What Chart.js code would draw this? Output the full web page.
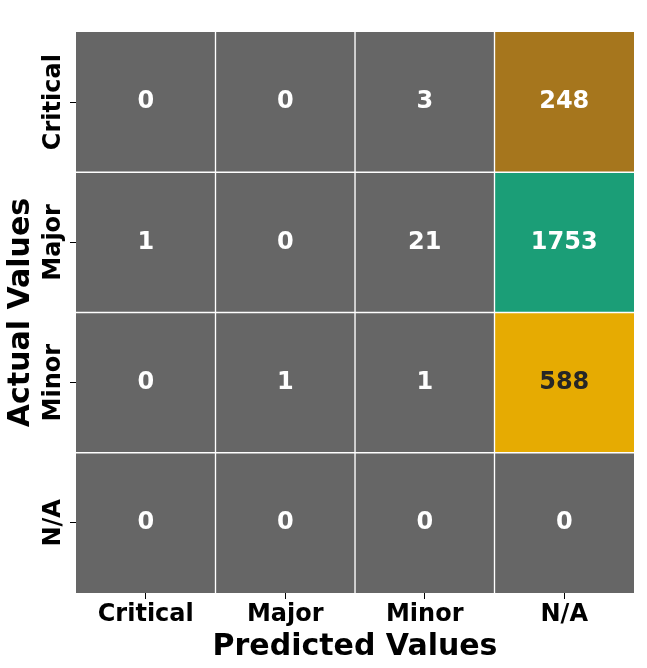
<!DOCTYPE html>
<html lang="en">
<head>
    <meta charset="UTF-8">
    <title>Confusion Matrix</title>
    <script src="https://cdn.jsdelivr.net/npm/chart.js"></script>
    <style>
        html, body { margin: 0; padding: 0; background: #fff; }
        #wrap { width: 647px; height: 668px; }
    </style>
</head>
<body>
    <div id="wrap"><canvas id="chartCM"></canvas></div>

    <script>
        // rows = actual, columns = predicted
        const rowLabels = ['Critical', 'Major', 'Minor', 'N/A'];
        const colLabels = ['Critical', 'Major', 'Minor', 'N/A'];
        const counts = [
            [0, 0, 3, 248],
            [1, 0, 21, 1753],
            [0, 1, 1, 588],
            [0, 0, 0, 0]
        ];

        // cell colours (same layout as counts)
        const gray = '#666666';
        const cellColors = [
            [gray, gray, gray, '#A6761D'],
            [gray, gray, gray, '#1B9E77'],
            [gray, gray, gray, '#E6AB02'],
            [gray, gray, gray, gray]
        ];
        const textColors = [
            ['#fff', '#fff', '#fff', '#fff'],
            ['#fff', '#fff', '#fff', '#fff'],
            ['#fff', '#fff', '#fff', '#262626'],
            ['#fff', '#fff', '#fff', '#fff']
        ];

        const font = 'DejaVu Sans';
        const n = rowLabels.length;

        // one floating bar per cell: column j spans [j, j+1]
        const datasets = colLabels.map((c, j) => ({
            label: c,
            data: rowLabels.map(() => [j, j + 1]),
            backgroundColor: rowLabels.map((r, i) => cellColors[i][j]),
            borderColor: '#ffffff',
            borderSkipped: false,
            borderWidth: ctx => ({
                top: ctx.dataIndex > 0 ? 1 : 0,
                bottom: ctx.dataIndex < n - 1 ? 1 : 0,
                left: ctx.datasetIndex > 0 ? 1 : 0,
                right: ctx.datasetIndex < n - 1 ? 1 : 0
            }),
            barPercentage: 1,
            categoryPercentage: 1
        }));

        // counts in the cells + vertical row labels centred on their ticks
        const cellText = {
            id: 'cellText',
            afterDatasetsDraw(chart) {
                const ctx = chart.ctx;
                ctx.save();
                ctx.font = 'bold 24px "' + font + '"';
                ctx.textAlign = 'center';
                ctx.textBaseline = 'middle';
                chart.data.datasets.forEach((ds, j) => {
                    chart.getDatasetMeta(j).data.forEach((bar, i) => {
                        const p = bar.getProps(['x', 'y', 'base'], true);
                        ctx.fillStyle = textColors[i][j];
                        ctx.fillText(String(counts[i][j]), (p.x + p.base) / 2, p.y);
                    });
                });
                ctx.restore();
            },
            afterDraw(chart) {
                const ctx = chart.ctx;
                const ys = chart.scales.y;
                ctx.save();
                ctx.font = 'bold 24px "' + font + '"';
                ctx.fillStyle = '#000';
                ctx.textAlign = 'center';
                ctx.textBaseline = 'middle';
                rowLabels.forEach((r, i) => {
                    ctx.save();
                    ctx.translate(54, ys.getPixelForValue(i));
                    ctx.rotate(-Math.PI / 2);
                    ctx.fillText(r, 0, 0);
                    ctx.restore();
                });
                ctx.restore();
            }
        };

        new Chart(document.getElementById('chartCM'), {
            type: 'bar',
            data: { labels: rowLabels, datasets: datasets },
            plugins: [cellText],
            options: {
                indexAxis: 'y',
                responsive: true,
                maintainAspectRatio: false,
                animation: false,
                layout: { padding: { top: 32, right: 13, left: 0, bottom: 0 } },
                plugins: { legend: { display: false }, tooltip: { enabled: false } },
                scales: {
                    y: {
                        stacked: true,
                        grid: { offset: false, drawOnChartArea: false, drawTicks: true, tickLength: 6, color: '#000', lineWidth: 1 },
                        border: { display: false },
                        ticks: { display: false },
                        title: {
                            display: true, text: 'Actual Values', color: '#000', padding: { top: 3 },
                            font: { family: font, size: 30, weight: 'bold' }
                        },
                        afterFit: s => { s.width = 76; }
                    },
                    x: {
                        min: 0, max: n,
                        afterBuildTicks: s => { s.ticks = colLabels.map((c, j) => ({ value: j + 0.5 })); },
                        grid: { drawOnChartArea: false, drawTicks: true, tickLength: 6, color: '#000', lineWidth: 1 },
                        border: { display: false },
                        ticks: {
                            padding: 1, color: '#000',
                            font: { family: font, size: 24, weight: 'bold' },
                            callback: v => colLabels[Math.floor(v)]
                        },
                        title: {
                            display: true, text: 'Predicted Values', color: '#000', padding: { bottom: 3 },
                            font: { family: font, size: 30, weight: 'bold' }
                        },
                        afterFit: s => { s.height = 75; }
                    }
                }
            }
        });
    </script>
</body>
</html>
